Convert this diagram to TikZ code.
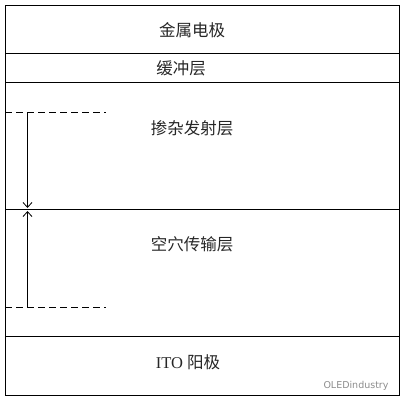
\documentclass[tikz,border=0pt]{standalone}
\usepackage{fontspec}
\setmainfont{Liberation Serif}
\newfontfamily\cjk{Noto Sans CJK SC}
\newfontfamily\wmfont{DejaVu Sans}
\usetikzlibrary{arrows.meta}

\begin{document}
\begin{tikzpicture}[x=1pt,y=-1pt,line width=0.8pt,
    layer/.style={font=\fontsize{16.5}{19}\selectfont, text=black!85},
    guide/.style={dash pattern=on 7pt off 4pt},
    span/.style={-{Straight Barb[length=5pt,width=9pt]}}]
  \useasboundingbox (0,0) rectangle (404,404);
  % layer stack
  \draw (5,5) rectangle (399,395);
  \draw (5,53.5) -- (399,53.5);
  \draw (5,82.5) -- (399,82.5);
  \draw (5,209.5) -- (399,209.5);
  \draw (5,336.5) -- (399,336.5);
  \node[layer] (metal) at (192,30) {\cjk 金属电极};
  \node[layer] (buffer) at (181,68.5) {\cjk 缓冲层};
  \node[layer] (emit) at (192,128) {\cjk 掺杂发射层};
  \node[layer] (hole) at (192,244) {\cjk 空穴传输层};
  \node[layer] (anode) at (188,362) {ITO \cjk 阳极};
  % recombination zone
  \coordinate (etop) at (27.5,112.5);
  \coordinate (eend) at (27.5,208);
  \coordinate (hbot) at (27.5,307);
  \coordinate (hend) at (27.5,211);
  \draw[guide] (5,112.5) -- (106,112.5);
  \draw[guide] (5,307) -- (106,307);
  \draw[span] (etop) -- (eend);
  \draw[span] (hbot) -- (hend);
  % watermark
  \node[text=black!45, font=\wmfont\fontsize{9.5}{11}\selectfont] (mark) at (356,386) {OLEDindustry};
\end{tikzpicture}
\end{document}
